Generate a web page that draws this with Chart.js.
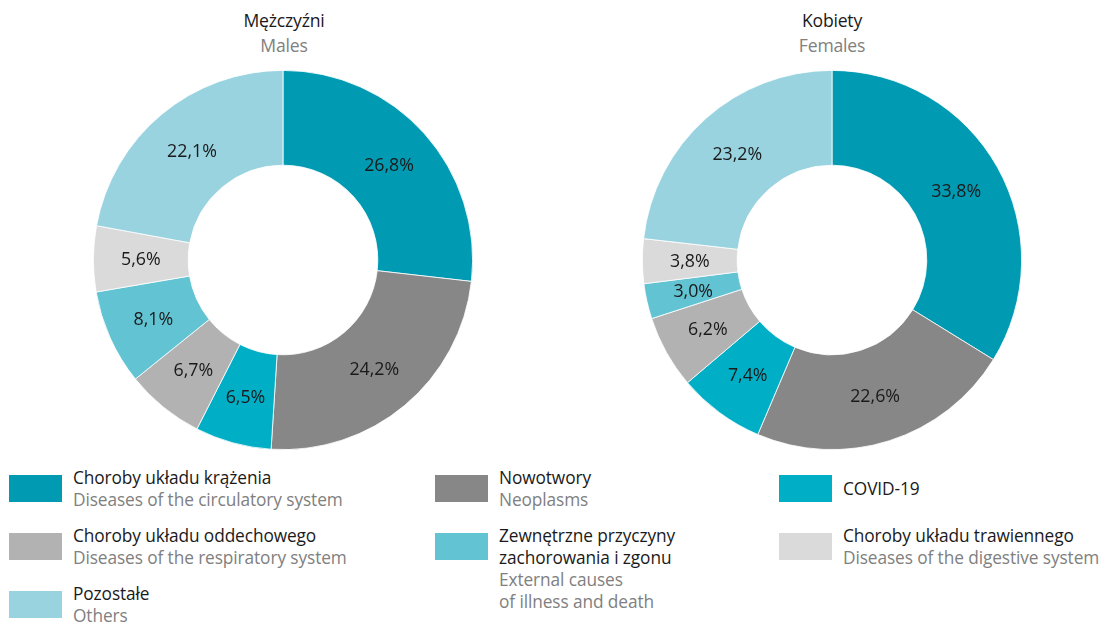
<!DOCTYPE html>
<html lang="pl">
<head>
<meta charset="utf-8">
<script src="https://cdn.jsdelivr.net/npm/chart.js@4.4.1/dist/chart.umd.min.js"></script>
<style>
  html, body { margin: 0; padding: 0; background: #fff; }
  body { width: 1107px; height: 624px; position: relative; overflow: hidden;
         font-family: "Open Sans", "Noto Sans", sans-serif; color: #1a1a1a; }
  .title { position: absolute; top: 8px; width: 300px; text-align: center;
           font-size: 17.6px; line-height: 25px; letter-spacing: -0.2px; }
  .title .en { color: #808080; }
  .chart { position: absolute; top: 70px; width: 380px; height: 380px; }
  .legend-item { position: absolute; font-size: 17.3px; line-height: 22px; letter-spacing: -0.1px; }
  .legend-item .box { position: absolute; left: 0; top: 8px; width: 53px; height: 27px; }
  .legend-item .txt { position: absolute; left: 64px; top: 0; white-space: nowrap; }
  .legend-item .en { color: #808080; }
</style>
</head>
<body>
<div class="title" style="left:134px">Mężczyźni<br><span class="en">Males</span></div>
<div class="title" style="left:682px">Kobiety<br><span class="en">Females</span></div>
<div class="chart" style="left:93px"><canvas id="malesChart" width="380" height="380"></canvas></div>
<div class="chart" style="left:642px"><canvas id="femalesChart" width="380" height="380"></canvas></div>
<div id="legend"></div>

<script>
// causes of death, clockwise from 12 o'clock
const causesPl = [
  "Choroby układu krążenia",
  "Nowotwory",
  "COVID-19",
  "Choroby układu oddechowego",
  "Zewnętrzne przyczyny\nzachorowania i zgonu",
  "Choroby układu trawiennego",
  "Pozostałe",
];
const causesEn = [
  "Diseases of the circulatory system",
  "Neoplasms",
  "",
  "Diseases of the respiratory system",
  "External causes\nof illness and death",
  "Diseases of the digestive system",
  "Others",
];
const colors = ["#009bb3", "#878787", "#00afc6", "#b2b2b2", "#62c3d3", "#dadada", "#99d3df"];

// shares of deaths, %
const males = [26.8, 24.2, 6.5, 6.7, 8.1, 5.6, 22.1];
const females = [33.8, 22.6, 7.4, 6.2, 3.0, 3.8, 23.2];

// legend cells: [index, left, top]
const legendOrder = [
  [0, 9, 467], [1, 435, 467], [2, 779, 467],
  [3, 9, 525], [4, 435, 525], [5, 779, 525],
  [6, 9, 583],
];

const fmt = (v) => v.toFixed(1).replace(".", ",") + "%";

// writes each slice's value in the middle of the ring
const sliceLabels = {
  id: "sliceLabels",
  afterDatasetsDraw(chart) {
    const ctx = chart.ctx;
    const meta = chart.getDatasetMeta(0);
    const data = chart.data.datasets[0].data;
    ctx.save();
    ctx.font = '17.8px "Open Sans", "Noto Sans", sans-serif';
    ctx.fillStyle = "#1a1a1a";
    ctx.textAlign = "center";
    ctx.textBaseline = "middle";
    meta.data.forEach((arc, i) => {
      const p = arc.tooltipPosition();
      ctx.fillText(fmt(data[i]), p.x, p.y + 1);
    });
    ctx.restore();
  },
};

function makeDoughnut(id, values) {
  return new Chart(document.getElementById(id), {
    type: "doughnut",
    data: {
      labels: causesPl,
      datasets: [{
        data: values,
        backgroundColor: colors,
        borderColor: "#ffffff",
        borderWidth: 0.8,
      }],
    },
    options: {
      responsive: false,
      animation: false,
      cutout: "50%",
      layout: { padding: 0 },
      plugins: { legend: { display: false }, tooltip: { enabled: false } },
    },
    plugins: [sliceLabels],
  });
}

makeDoughnut("malesChart", males);
makeDoughnut("femalesChart", females);

const legendEl = document.getElementById("legend");
legendOrder.forEach(([i, left, top]) => {
  const item = document.createElement("div");
  item.className = "legend-item";
  item.style.left = left + "px";
  item.style.top = top + "px";
  const box = document.createElement("div");
  box.className = "box";
  box.style.background = colors[i];
  const txt = document.createElement("div");
  txt.className = "txt";
  const pl = causesPl[i].split("\n").join("<br>");
  const en = causesEn[i] ? '<br><span class="en">' + causesEn[i].split("\n").join("<br>") + "</span>" : "";
  txt.innerHTML = pl + en;
  if (!causesEn[i]) txt.style.top = "11px";
  item.appendChild(box);
  item.appendChild(txt);
  legendEl.appendChild(item);
});
</script>
</body>
</html>
